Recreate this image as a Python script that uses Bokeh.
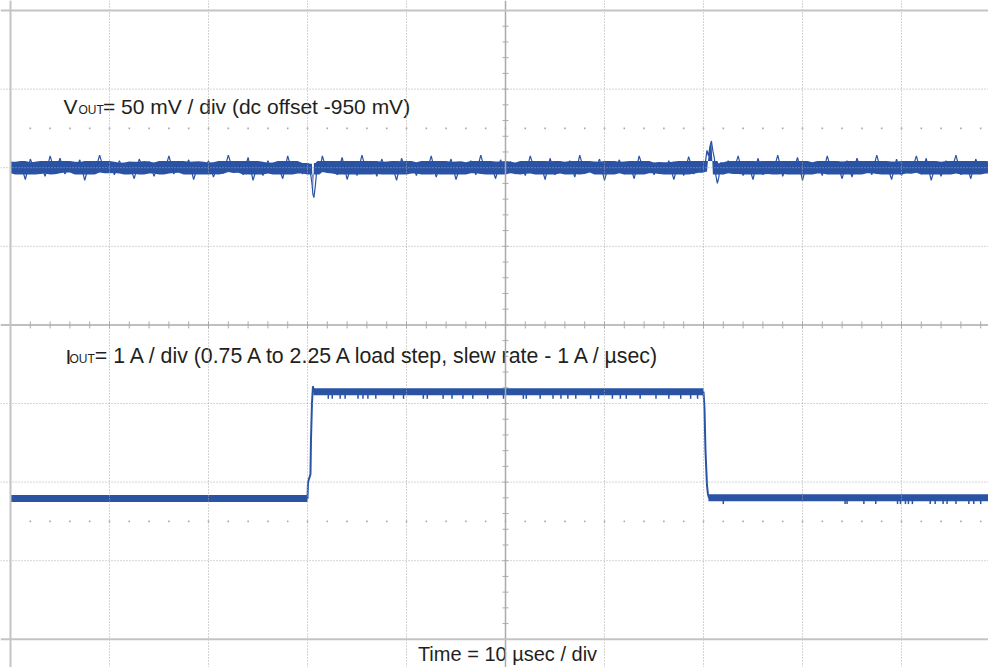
from bokeh.plotting import figure
from bokeh.models import Range1d, Span
from bokeh.core.properties import value
from bokeh.embed import file_html
from bokeh.resources import INLINE

# ---------------- data (time in usec, amplitude in scope divisions) ----------------
vout_level = 2.0   # VOUT trace center on screen (div above center line)
# VOUT trace, 0.5 usec samples
vout_a = [2.09, 1.93, 2.06, 1.85, 2.11, 1.95, 2.04, 1.89, 2.15, 1.94,
          2.12, 1.92, 2.05, 1.96, 2.10, 1.84, 2.07, 1.93, 2.16, 1.95,
          2.06, 1.91, 2.09, 1.94, 2.04, 1.86, 2.11, 1.96, 2.08, 1.89,
          2.05, 1.93, 2.15, 1.92, 2.07, 1.95, 2.10, 1.85, 2.06, 1.94,
          2.09, 1.88, 2.05, 1.93, 2.16, 1.96, 2.08, 1.91, 2.13, 1.84,
          2.06, 1.90, 2.09, 1.95, 2.04, 1.86, 2.15, 1.93, 2.07, 1.92,
          2.05]                       # t = 0 .. 30
vout_step1_t = [30.3, 30.45, 30.55, 30.65, 30.8, 31.0, 31.2]
vout_step1_v = [1.93, 1.80, 1.66, 1.62, 1.78, 2.06, 1.95]
vout_b = [2.15, 1.94, 2.08, 1.91, 2.13, 1.85, 2.06, 1.90, 2.16, 1.93,
          2.07, 1.89, 2.11, 1.94, 2.05, 1.84, 2.12, 1.95, 2.08, 1.90,
          2.06, 1.93, 2.15, 1.88, 2.07, 1.94, 2.11, 1.85, 2.05, 1.95,
          2.09, 1.91, 2.16, 1.93, 2.06, 1.86, 2.10, 1.94, 2.08, 1.92,
          2.05, 1.90, 2.15, 1.95, 2.07, 1.85, 2.12, 1.91, 2.06, 1.94,
          2.09, 1.88, 2.16, 1.93, 2.05, 1.95, 2.11, 1.84, 2.07, 1.94,
          2.10, 1.92, 2.06, 1.86, 2.15, 1.95, 2.08, 1.91, 2.05, 1.93,
          2.09, 1.85, 2.07, 1.90, 2.14, 1.92, 2.06, 1.95]   # t = 31.5 .. 70
vout_step2_t = [70.2, 70.35, 70.5, 70.65, 70.8, 70.95, 71.1, 71.25, 71.4, 71.55, 71.7]
vout_step2_v = [2.08, 2.22, 2.15, 2.27, 2.34, 2.21, 2.12, 1.90, 1.80, 1.88, 2.05]
vout_c = [1.92, 2.09, 1.94, 2.15, 1.90, 2.06, 1.85, 2.12, 1.91, 2.07,
          1.93, 2.16, 1.89, 2.05, 1.94, 2.13, 1.84, 2.08, 1.95, 2.06,
          1.90, 2.15, 1.93, 2.07, 1.86, 2.09, 1.88, 2.12, 1.95, 2.06,
          1.91, 2.16, 1.93, 2.05, 1.85, 2.11, 1.90, 2.08, 1.95, 2.15,
          1.92, 2.12, 1.84, 2.06, 1.89, 2.09, 1.94, 2.16, 1.91, 2.07,
          1.86, 2.11, 1.93, 2.08, 1.92]   # t = 72 .. 99

# IOUT trace (low ~ -2.21 div, high ~ -0.85 div)
iout_t = [0.0, 30.0, 30.05, 30.3, 30.35, 30.45, 30.55, 30.65, 70.0, 70.1, 70.2, 70.35, 70.45, 70.55, 99.0]
iout_y = [-2.21, -2.21, -2.00, -1.90, -1.47, -1.00, -0.78, -0.85, -0.85, -1.06, -1.60, -2.04, -2.15, -2.20, -2.20]
iout_level_t0 = [0.0, 30.6, 70.5]
iout_level_t1 = [30.0, 70.0, 99.0]
iout_level_y = [-2.21, -0.85, -2.20]
iout_hi_spikes = [32.1, 32.5, 33.3, 33.8, 35.1, 35.6, 36.1, 36.9, 38.7, 39.7, 41.7, 42.1,
                  43.7, 44.6, 45.7, 46.7, 48.2, 49.8, 51.8, 52.1, 53.5, 54.8, 55.6, 56.3,
                  57.1, 58.6, 59.4, 60.8, 61.6, 62.2, 63.6, 65.2, 66.5, 67.7, 68.7, 69.4]
iout_lo_spikes = [72.0, 84.3, 84.5, 86.2, 87.4, 89.6, 89.9, 90.4, 90.7, 91.1,
                  92.9, 93.4, 94.2, 94.6, 95.5, 96.8, 97.3, 98.0]

time_label = "Time = 10 \u00b5sec / div"
vout_label = "= 50 mV / div (dc offset -950  mV)"
iout_label = "= 1 A / div (0.75 A to 2.25 A load step, slew rate - 1 A / \u00b5sec)"

# ---------------- assemble ----------------
vout_t = ([0.5 * i for i in range(len(vout_a))] + vout_step1_t +
          [31.5 + 0.5 * i for i in range(len(vout_b))] + vout_step2_t +
          [72.0 + 0.5 * i for i in range(len(vout_c))])
vout_v = vout_a + vout_step1_v + vout_b + vout_step2_v + vout_c

# inner envelope of the noise (solid core of the trace)
core_lo, core_hi = [], []
for i in range(len(vout_v)):
    win = vout_v[max(0, i - 2):i + 3]
    hi = [a for a in win if a >= vout_level]
    lo = [a for a in win if a < vout_level]
    core_hi.append(min(sum(hi) / len(hi), 2.085) if hi else vout_v[i])
    core_lo.append(max(sum(lo) / len(lo), 1.915) if lo else vout_v[i])

TRACE = "#2a53a4"
GRID = "#a9a9a9"
FONT = value("Liberation Sans")
TXT = "#231f20"

W, H = 988, 667
PX_T = 9.9      # px per usec
PX_D = 78.6     # px per division
X0, Y0 = 10, 10  # graticule top-left corner
DY = 0.09       # baseline correction for the text glyphs (div)

p = figure(width=W, height=H,
           x_range=Range1d(-X0 / PX_T, (W - X0) / PX_T),
           y_range=Range1d(4 - (H - Y0) / PX_D, 4 + Y0 / PX_D),
           output_backend="svg", toolbar_location=None,
           x_axis_location=None, y_axis_location=None,
           min_border=0, min_border_left=0, min_border_right=0,
           min_border_top=0, min_border_bottom=0)
p.grid.visible = False
p.outline_line_color = None
p.background_fill_color = "white"
p.border_fill_color = "white"

# dotted graticule
for t in [10, 20, 30, 40, 60, 70, 80, 90]:
    p.add_layout(Span(location=t, dimension="height", line_color=GRID,
                      line_dash="1 2", line_width=1))
for d in [3, 2, 1, -1, -2, -3]:
    p.add_layout(Span(location=d, dimension="width", line_color=GRID,
                      line_dash="1 2", line_width=1))
# center cross
p.add_layout(Span(location=50, dimension="height", line_color="#aaaaaa", line_width=1.5))
p.add_layout(Span(location=0, dimension="width", line_color="#aaaaaa", line_width=1.5))
# border
p.add_layout(Span(location=0, dimension="height", line_color="#c4c4c4", line_width=2))
p.add_layout(Span(location=4, dimension="width", line_color="#c4c4c4", line_width=2))
p.add_layout(Span(location=-4, dimension="width", line_color="#c4c4c4", line_width=2))

# minor ticks on center cross
tx = [2 * i for i in range(1, 50)]
p.segment(x0=tx, y0=[-0.045] * len(tx), x1=tx, y1=[0.045] * len(tx),
          line_color="#aaaaaa", line_width=1)
ty = [-4 + 0.2 * i for i in range(1, 40)]
p.segment(x0=[49.7] * len(ty), y0=ty, x1=[50.3] * len(ty), y1=ty,
          line_color="#aaaaaa", line_width=1)
# dotted marker rows
p.scatter(x=tx + tx, y=[2.5] * len(tx) + [-2.5] * len(tx), marker="square",
          size=1.6, color="#a8a8a8", line_color=None)

# traces
p.varea(x=vout_t, y1=core_lo, y2=core_hi, fill_color=TRACE)
p.line(vout_t, vout_v, line_color=TRACE, line_width=1.2)
p.line(iout_t, iout_y, line_color=TRACE, line_width=2)
p.segment(x0=iout_level_t0, y0=iout_level_y, x1=iout_level_t1, y1=iout_level_y,
          line_color=TRACE, line_width=7)
p.segment(x0=iout_hi_spikes, y0=[-0.85] * len(iout_hi_spikes),
          x1=iout_hi_spikes, y1=[-0.94] * len(iout_hi_spikes),
          line_color=TRACE, line_width=1.5)
p.segment(x0=iout_lo_spikes, y0=[-2.20] * len(iout_lo_spikes),
          x1=iout_lo_spikes, y1=[-2.28] * len(iout_lo_spikes),
          line_color=TRACE, line_width=1.5)

# labels
def txt(x, y, s, size, align="left"):
    p.text(x=[x], y=[y + DY], text=[s], text_font=FONT, text_font_size=size,
           text_color=TXT, text_baseline="alphabetic", text_align=align)

txt(5.35, 2.69, "V", "21px")
txt(6.87, 2.64, "OUT", "12px")
txt(9.34, 2.69, vout_label, "21px")
txt(5.56, -0.49, "I", "21px")
txt(5.96, -0.53, "OUT", "12px")
txt(8.52, -0.49, iout_label, "21.3px")
txt(50.2, 4 - (661 - Y0) / PX_D, time_label, "20px", align="center")

open("out.html", "w").write(file_html(p, INLINE))
